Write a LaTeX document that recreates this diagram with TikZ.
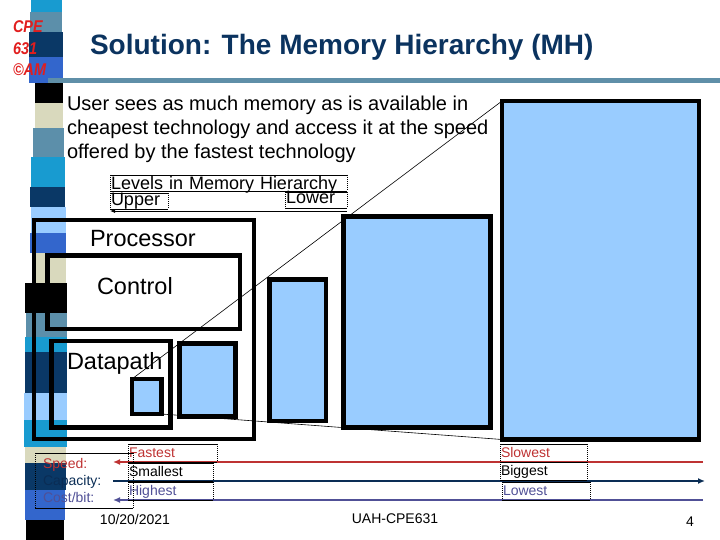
\documentclass[tikz,border=0pt]{standalone}
\usepackage{fontspec}
\setmainfont{Liberation Sans}
\newfontfamily\logofont[FakeStretch=0.85]{Liberation Sans}
\usetikzlibrary{arrows.meta,backgrounds}

\definecolor{stcyan}{RGB}{24,155,208}
\definecolor{ststeel}{RGB}{92,143,170}
\definecolor{stnavy}{RGB}{10,56,102}
\definecolor{stblue}{RGB}{51,102,204}
\definecolor{stbeige}{RGB}{217,217,189}
\definecolor{stlight}{RGB}{153,204,255}
\definecolor{memblue}{RGB}{153,204,255}
\definecolor{titlenavy}{RGB}{11,51,95}
\definecolor{rulesteel}{RGB}{95,143,168}
\definecolor{logored}{RGB}{225,30,30}
\definecolor{spdred}{RGB}{190,50,50}
\definecolor{capnavy}{RGB}{10,45,85}
\definecolor{costblue}{RGB}{80,80,150}

\begin{document}
\begin{tikzpicture}[x=1pt,y=-1pt,>={Latex[length=7pt,width=6pt]},
  every node/.style={inner sep=0pt,outer sep=0pt},
  box/.style={draw=black,line width=4.5pt,anchor=north west},
  mem/.style={box,fill=memblue},
  lbl/.style={anchor=base west,font=\fontsize{23.5}{26}\selectfont},
  tag/.style={anchor=north west,inner xsep=1pt,align=left,font=\fontsize{14}{17}\selectfont}]
\useasboundingbox (0,0) rectangle (720,540);
% left stripe
\foreach \ya/\yb/\c/\xl/\xr in {0/12/stcyan/31/62, 12/32/ststeel/30/62, 32/57/stnavy/29/63,
  57/83/stblue/29/63, 83/103/black/35/63, 103/128/stbeige/35/63, 128/157/ststeel/33/64,
  157/187/stcyan/31/65, 187/207/stnavy/30/65, 207/233/stlight/31/66, 233/253/stblue/30/66,
  253/283/stbeige/32/66, 283/313/black/25/67, 313/337/ststeel/26/67, 337/352/stcyan/25/67,
  352/393/stnavy/25/67, 393/420/stlight/24/67, 420/447/stcyan/24/67, 447/463/stbeige/25/66,
  463/490/stnavy/25/66, 490/520/stblue/25/65, 520/540/black/26/64}
  \fill[\c] (\xl,\ya) rectangle (\xr,\yb);
\node[anchor=north west,align=left,text=logored,font=\logofont\fontsize{17}{21.5}\selectfont\bfseries\itshape] (logo) at (13,21) {CPE\\631\\©AM};
% title
\node[anchor=base west,text=titlenavy,font=\fontsize{28}{30}\selectfont\bfseries] (title) at (90,55) {Solution: The Memory Hierarchy (MH)};
\draw[rulesteel,line width=5pt] (48,80.5) -- (720,80.5);
\node[anchor=base west,font=\fontsize{20}{24}\selectfont] (intro1) at (67,111) {User sees as much memory as is available in};
\node[anchor=base west,font=\fontsize{20}{24}\selectfont] (intro2) at (67,135) {cheapest technology and access it at the speed};
\node[anchor=base west,font=\fontsize{20}{24}\selectfont] (intro3) at (67,159) {offered by the fastest technology};
% processor and memories
\node[box,minimum width=220pt,minimum height=219pt] (proc) at (34,220) {};
\node[box,minimum width=192.5pt,minimum height=73.5pt] (ctrl) at (47.5,255.5) {};
\node[box,minimum width=119pt,minimum height=86.5pt] (dpath) at (51.5,341) {};
\node[mem,minimum width=29.5pt,minimum height=35pt] (reg) at (132,379) {};
\node[mem,minimum width=56pt,minimum height=73pt] (cacheA) at (179.5,343.5) {};
\node[mem,minimum width=56.5pt,minimum height=141.5pt] (cacheB) at (269.5,279.5) {};
\node[mem,minimum width=147pt,minimum height=211pt] (mainm) at (343.5,216.5) {};
\node[mem,minimum width=197pt,minimum height=338.5pt] (disk) at (502,101) {};
\node[lbl] (proclbl) at (90,247) {Processor};
\node[lbl] (ctrllbl) at (97,294) {Control};
\node[lbl] (dplbl) at (67,369) {Datapath};
\begin{scope}[on background layer]
\draw[line width=0.6pt] (reg.north west) -- (disk.north west);
\draw[line width=0.6pt] (reg.south east) -- (disk.south west);
\end{scope}
% levels legend
\node[tag,font=\fontsize{18}{20}\selectfont,text width=235pt,text height=15pt,text depth=1pt] (lvl) at (110,175) {Levels in Memory Hierarchy};
\node[tag,font=\fontsize{18}{20}\selectfont,text width=56pt,text height=13pt,text depth=3pt] (up) at (110,193) {Upper};
\node[tag,font=\fontsize{18}{20}\selectfont,text width=60pt,text height=12pt,text depth=4pt] (low) at (285,192) {Lower};
\coordinate (hiR) at (347,211);
\coordinate (hiL) at (110,211);
\draw[-{Latex[length=5pt,width=4pt]},line width=0.8pt] (hiR) -- (hiL);
% speed, capacity, cost
\coordinate (spdR) at (703,462);
\coordinate (spdL) at (113,462);
\coordinate (capL) at (113,481);
\coordinate (capR) at (705,481);
\coordinate (costR) at (703,500);
\coordinate (costL) at (113,500);
\draw[spdred,line width=1.6pt,->] (spdR) -- (spdL);
\draw[capnavy,line width=1.6pt,->] (capL) -- (capR);
\draw[costblue,line width=1.6pt,->] (costR) -- (costL);
\node[tag,inner xsep=8pt,text width=82pt,minimum height=55pt] (leg) at (35,453)
  {\textcolor{spdred}{Speed:}\\\textcolor{capnavy}{Capacity:}\\\textcolor{costblue}{Cost/bit:}};
\node[tag,text=spdred,text width=87pt,text height=13pt,text depth=5pt] (fast) at (128,444) {Fastest};
\node[tag,text width=83pt,text height=13pt,text depth=5pt] (small) at (128,463) {Smallest};
\node[tag,text=costblue,text width=83pt,text height=13pt,text depth=5pt] (high) at (128,482) {Highest};
\node[tag,text=spdred,text width=85pt,text height=13pt,text depth=5pt] (slow) at (500,444) {Slowest};
\node[tag,text width=85pt,text height=13pt,text depth=5pt] (big) at (500,462) {Biggest};
\node[tag,text=costblue,text width=86pt,text height=13pt,text depth=5pt] (lowc) at (502,482) {Lowest};
\foreach \n in {lvl,up,low,leg,fast,small,high,slow,big,lowc}{
  \draw[line width=1pt,dash pattern=on 1pt off 1pt] (\n.north west) -- (\n.south west) (\n.north east) -- (\n.south east);
  \draw[line width=0.8pt] (\n.north west) -- (\n.north east) (\n.south west) -- (\n.south east);
}
% footer
\node[font=\fontsize{14}{16}\selectfont] (date) at (135,519) {10/20/2021};
\node[font=\fontsize{14}{16}\selectfont] (src) at (395,519) {UAH-CPE631};
\node[font=\fontsize{14}{16}\selectfont] (pg) at (690,522) {4};
\end{tikzpicture}
\end{document}
